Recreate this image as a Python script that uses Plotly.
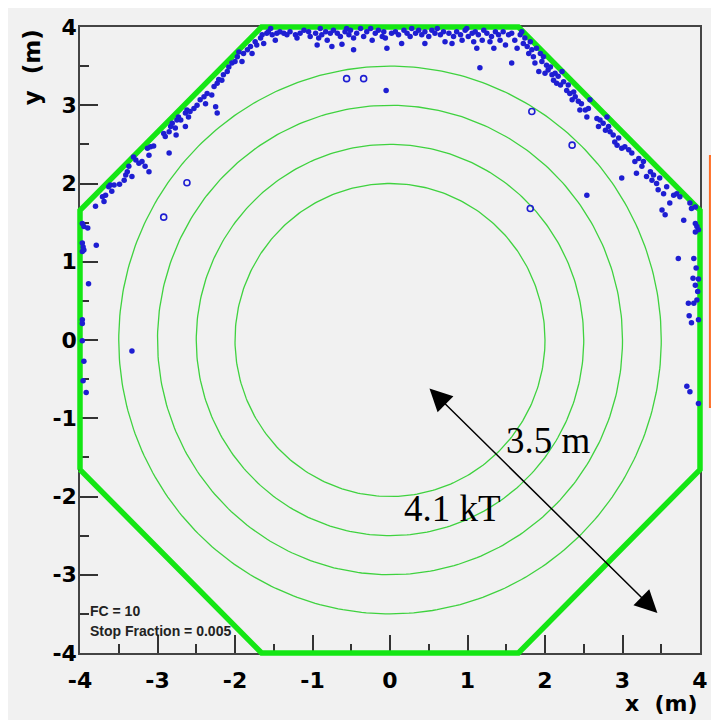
import numpy as np
import plotly.graph_objects as go

# ---------------- data ----------------
# octagonal detector boundary (m)
OCT_X = [-4.0, -4.0, -1.657, 1.657, 4.0, 4.0, 1.657, -1.657, -4.0]
OCT_Y = [-1.657, 1.657, 4.0, 4.0, 1.657, -1.657, -4.0, -4.0, -1.657]

# radii of the fiducial contour circles (m)
CONTOUR_R = [2.0, 2.5, 3.0, 3.5]

# event positions (x, y) in m
TOP_LEFT_DIAG = [
    (-3.80, 1.71), (-3.69, 1.77), (-3.71, 1.83), (-3.67, 1.85), (-3.63, 1.96), (-3.59, 1.90),
    (-3.61, 1.98), (-3.56, 1.98), (-3.49, 1.99), (-3.43, 2.04), (-3.41, 2.11), (-3.39, 2.15),
    (-3.37, 2.22), (-3.33, 2.09), (-3.31, 2.34), (-3.28, 2.30), (-3.24, 2.26), (-3.20, 2.28),
    (-3.16, 2.22), (-3.11, 2.15), (-3.13, 2.45), (-3.09, 2.47), (-3.05, 2.48), (-3.11, 2.36),
    (-2.92, 2.64), (-2.90, 2.60), (-2.85, 2.66), (-2.83, 2.73), (-2.81, 2.77), (-2.77, 2.71),
    (-2.76, 2.62), (-2.75, 2.81), (-2.73, 2.85), (-2.70, 2.81), (-2.64, 2.90), (-2.62, 2.94),
    (-2.60, 2.85), (-2.64, 2.73), (-2.58, 2.92), (-2.53, 2.96), (-2.49, 3.00), (-2.45, 3.07),
    (-2.40, 3.11), (-2.38, 3.02), (-2.36, 3.15), (-2.30, 3.13), (-2.27, 3.24), (-2.23, 3.28),
    (-2.21, 3.33), (-2.17, 3.32), (-2.15, 3.39), (-2.10, 3.43), (-2.08, 3.49), (-2.04, 3.54),
    (-2.00, 3.56), (-1.97, 3.62), (-1.95, 3.68), (-1.91, 3.56), (-1.89, 3.66), (-1.84, 3.71),
    (-1.80, 3.75), (-1.78, 3.66), (-1.74, 3.81), (-1.72, 3.77), (-1.67, 3.86), (-1.65, 3.90),
    (-1.59, 3.92), (-1.63, 3.79), (-2.25, 2.98), (-2.23, 2.90), (-2.85, 2.39),
]
TOP_EDGE = [
    (-1.57, 3.94), (-1.54, 3.98), (-1.52, 3.90), (-1.48, 3.83), (-1.46, 3.92), (-1.42, 3.94),
    (-1.37, 3.92), (-1.33, 3.90), (-1.29, 3.94), (-1.22, 3.90), (-1.20, 3.86), (-1.16, 3.92),
    (-1.11, 3.96), (-1.05, 3.94), (-1.03, 3.88), (-0.96, 3.92), (-0.94, 3.77), (-0.92, 3.86),
    (-0.90, 3.98), (-0.88, 3.90), (-0.83, 3.94), (-0.81, 3.83), (-0.77, 3.92), (-0.75, 3.75),
    (-0.73, 3.96), (-0.68, 3.92), (-0.64, 3.88), (-0.62, 3.78), (-0.58, 3.94), (-0.56, 3.98),
    (-0.53, 3.90), (-0.51, 3.96), (-0.47, 3.86), (-0.47, 3.71), (-0.43, 3.92), (-0.38, 3.98),
    (-0.34, 3.88), (-0.30, 3.94), (-0.25, 3.98), (-0.23, 3.83), (-0.19, 3.92), (-0.15, 3.96),
    (-0.10, 3.88), (-0.08, 3.94), (-0.06, 3.86), (-0.04, 3.73), (-0.05, 3.19),
    (0.02, 3.92), (0.07, 3.94), (0.11, 3.90), (0.15, 3.79), (0.18, 3.96), (0.22, 3.92),
    (0.26, 3.88), (0.28, 3.98), (0.33, 3.92), (0.37, 3.96), (0.41, 3.90), (0.45, 3.94),
    (0.45, 3.79), (0.50, 3.88), (0.54, 3.96), (0.58, 3.92), (0.61, 3.98), (0.65, 3.90),
    (0.69, 3.94), (0.71, 3.81), (0.76, 3.92), (0.80, 3.79), (0.82, 3.88), (0.86, 3.94),
    (0.91, 3.90), (0.93, 3.83), (0.97, 3.96), (0.99, 3.98), (1.01, 3.88), (1.06, 3.92),
    (1.08, 3.81), (1.10, 3.94), (1.12, 3.73), (1.14, 3.90), (1.19, 3.83), (1.21, 3.96),
    (1.25, 3.92), (1.29, 3.81), (1.31, 3.88), (1.34, 3.73), (1.36, 3.94), (1.40, 3.90),
    (1.42, 3.83), (1.46, 3.94), (1.49, 3.77), (1.53, 3.90), (1.16, 3.48),
]
TOP_RIGHT_DIAG = [
    (1.57, 3.92), (1.61, 3.83), (1.64, 3.73), (1.57, 3.54), (1.68, 3.90), (1.70, 3.94),
    (1.72, 3.79), (1.74, 3.86), (1.77, 3.75), (1.79, 3.66), (1.81, 3.81), (1.83, 3.71),
    (1.85, 3.62), (1.87, 3.54), (1.89, 3.73), (1.92, 3.43), (1.94, 3.66), (1.96, 3.56),
    (1.98, 3.62), (2.00, 3.41), (2.02, 3.51), (2.04, 3.45), (2.07, 3.49), (2.09, 3.39),
    (2.11, 3.32), (2.13, 3.41), (2.15, 3.28), (2.17, 3.37), (2.20, 3.26), (2.22, 3.43),
    (2.24, 3.30), (2.28, 3.19), (2.30, 3.26), (2.32, 3.15), (2.35, 3.07), (2.37, 3.17),
    (2.39, 3.11), (2.43, 3.05), (2.45, 2.94), (2.47, 3.02), (2.52, 2.94), (2.54, 2.85),
    (2.56, 2.96), (2.58, 3.07), (2.67, 2.83), (2.69, 2.73), (2.71, 2.81), (2.75, 2.77),
    (2.78, 2.68), (2.80, 2.85), (2.82, 2.73), (2.84, 2.66), (2.88, 2.62), (2.90, 2.53),
    (2.93, 2.49), (2.95, 2.58), (2.99, 2.45), (3.03, 2.47), (3.08, 2.43), (3.12, 2.39),
    (3.16, 2.28), (3.18, 2.13), (3.21, 2.32), (3.25, 2.22), (3.27, 2.28), (3.31, 2.09),
    (3.36, 2.15), (3.38, 2.04), (3.40, 2.11), (3.44, 2.00), (3.46, 1.92), (3.48, 2.07),
    (3.53, 1.87), (3.57, 1.96), (3.61, 1.75), (3.66, 1.85), (3.70, 1.87), (3.74, 1.83),
    (3.79, 1.53), (3.87, 1.75), (3.89, 1.68), (3.94, 1.70), (2.99, 2.07), (2.54, 1.85),
    (3.51, 1.66), (3.55, 1.60),
]
RIGHT_EDGE = [
    (3.94, 1.49), (3.96, 1.45), (3.98, 1.41), (3.94, 1.38), (3.72, 1.04), (3.92, 1.04),
    (3.95, 0.92), (3.91, 0.79), (3.98, 0.78), (3.94, 0.70), (3.97, 0.62), (3.96, 0.51),
    (3.92, 0.47), (3.85, 0.47), (3.86, 0.31), (3.89, 0.22), (3.98, 0.26), (3.83, -0.59),
    (3.87, -0.66), (3.98, -0.81),
]
LEFT_EDGE = [
    (-3.97, 1.49), (-3.95, 1.45), (-3.90, 1.43), (-3.97, 1.24), (-3.96, 1.19), (-3.97, 1.13),
    (-3.95, 1.15), (-3.79, 1.21), (-3.89, 0.72), (-3.97, 0.26), (-3.97, 0.21), (-3.97, -0.01),
    (-3.95, -0.27), (-3.96, -0.52), (-3.92, -0.67), (-3.33, -0.14),
]
# events drawn as open markers
RING_EVENTS = [
    (-2.62, 2.01), (-2.92, 1.57), (-0.56, 3.34), (-0.34, 3.34),
    (1.83, 2.92), (2.35, 2.49), (1.81, 1.68),
]

X_TICKS = [-4, -3, -2, -1, 0, 1, 2, 3, 4]
X_TICK_LABELS = ["-4", "-3", "-2", "-1", "0", "1", "2", "3", "4"]
Y_TICKS = [-4, -3, -2, -1, 0, 1, 2, 3, 4]
Y_TICK_LABELS = ["-4", "-3", "-2", "-1", "0", "1", "2", "3", "4"]
MINOR_TICKS = [-3.5, -2.5, -1.5, -0.5, 0.5, 1.5, 2.5, 3.5]

# arrow (radius indicator) from start point to end point, m
ARROW_START = (0.49, -0.60)
ARROW_END = (3.45, -3.49)
LABEL_RADIUS = ("3.5 m", 2.04, -1.28)
LABEL_MASS = ("4.1 kT", 0.80, -2.15)
INFO_LINES = ["FC = 10", "Stop Fraction = 0.005"]

# ---------------- layout constants ----------------
W, H = 719, 720
ML, MR, MT, MB = 62, 17, 9, 65
IW, IH = W - ML - MR, H - MT - MB
XD = [10 / IW, (IW - 10) / IW]
YD = [10 / IH, (IH - 10) / IH]
XR = [-4, 4]
YR = [-4, 4]
# outer (unclipped) overlay subplot with the same scale
xs = (XR[1] - XR[0]) / (XD[1] - XD[0])
ys = (YR[1] - YR[0]) / (YD[1] - YD[0])
XR2 = [XR[0] - XD[0] * xs, XR[1] + (1 - XD[1]) * xs]
YR2 = [YR[0] - YD[0] * ys, YR[1] + (1 - YD[1]) * ys]

BLUE = "#1e1ed2"
BG = "#f1f1f1"
fig = go.Figure()

for r in CONTOUR_R:
    t = np.linspace(0, 2 * np.pi, 361)
    fig.add_trace(go.Scatter(x=r * np.cos(t), y=r * np.sin(t), mode="lines",
                             line=dict(color="#3fd23f", width=1.3),
                             hoverinfo="skip", showlegend=False, xaxis="x", yaxis="y"))

fig.add_trace(go.Scatter(x=OCT_X, y=OCT_Y, mode="lines",
                         line=dict(color="#14e614", width=5.5),
                         hoverinfo="skip", showlegend=False, xaxis="x2", yaxis="y2"))

dots = TOP_LEFT_DIAG + TOP_EDGE + TOP_RIGHT_DIAG + RIGHT_EDGE + LEFT_EDGE
fig.add_trace(go.Scatter(x=[p[0] for p in dots], y=[p[1] for p in dots], mode="markers",
                         marker=dict(color=BLUE, size=5.5, line=dict(width=0)),
                         showlegend=False, xaxis="x2", yaxis="y2"))
fig.add_trace(go.Scatter(x=[p[0] for p in RING_EVENTS], y=[p[1] for p in RING_EVENTS],
                         mode="markers",
                         marker=dict(color=BLUE, size=6, symbol="circle-open",
                                     line=dict(width=1.6, color=BLUE)),
                         showlegend=False, xaxis="x2", yaxis="y2"))

tickfont = dict(family="DejaVu Sans", size=22, color="black", weight="bold")
axis_common = dict(showgrid=False, zeroline=False, showline=True, linecolor="#444",
                   linewidth=1.5, mirror=True, ticks="inside", ticklen=18, tickwidth=1.5,
                   tickcolor="#333", tickfont=tickfont, tickmode="array", automargin=False,
                   minor=dict(tickmode="array", tickvals=MINOR_TICKS, ticks="inside",
                              ticklen=9, tickwidth=1.5, tickcolor="#333"))

fig.update_layout(
    width=W, height=H,
    margin=dict(l=ML, r=MR, t=MT, b=MB, pad=0, autoexpand=False),
    paper_bgcolor=BG, plot_bgcolor="rgba(0,0,0,0)",
    xaxis=dict(range=XR, domain=XD, anchor="y", tickvals=X_TICKS, ticktext=X_TICK_LABELS,
               ticklabelstandoff=7, **axis_common),
    yaxis=dict(range=YR, domain=YD, anchor="x", tickvals=Y_TICKS, ticktext=Y_TICK_LABELS,
               ticklabelstandoff=-3, **axis_common),
    xaxis2=dict(range=XR2, domain=[0, 1], anchor="y2", visible=False, automargin=False),
    yaxis2=dict(range=YR2, domain=[0, 1], anchor="x2", visible=False, automargin=False),
    showlegend=False,
)

# clipped legend box at the right edge
fig.add_shape(type="rect", xref="x domain", yref="y domain", x0=1.016, x1=1.08,
              y0=0.393, y1=0.794, line=dict(color="#ff6d24", width=2),
              fillcolor="rgba(0,0,0,0)", layer="above")

fig.add_annotation(x=ARROW_END[0], y=ARROW_END[1], ax=ARROW_START[0], ay=ARROW_START[1],
                   xref="x", yref="y", axref="x", ayref="y", text="", showarrow=True,
                   arrowhead=2, startarrowhead=2, arrowside="end+start",
                   arrowsize=3, startarrowsize=3, arrowwidth=1.5, arrowcolor="black",
                   standoff=0, startstandoff=0)
for txt, lx, ly in (LABEL_RADIUS, LABEL_MASS):
    fig.add_annotation(x=lx, y=ly, xref="x", yref="y", text=txt, showarrow=False,
                       font=dict(family="Liberation Serif", size=37, color="black"))

fig.add_annotation(x=1, y=-0.080, xref="x domain", yref="y domain", text="x  (m)",
                   showarrow=False, xanchor="right", yanchor="middle",
                   font=dict(family="DejaVu Sans", size=22, color="black", weight="bold"))
fig.add_annotation(x=-0.077, y=1, xref="x domain", yref="y domain", text="y  (m)",
                   textangle=-90, showarrow=False, xanchor="center", yanchor="top",
                   font=dict(family="DejaVu Sans", size=23, color="black", weight="bold"))
for i, line in enumerate(INFO_LINES):
    fig.add_annotation(x=0.013, y=0.067 - 0.032 * i, xref="x domain", yref="y domain",
                       text="<b>%s</b>" % line, showarrow=False, xanchor="left",
                       yanchor="middle",
                       font=dict(family="Liberation Sans", size=14, color="#222"))

fig.write_html("out.html")
